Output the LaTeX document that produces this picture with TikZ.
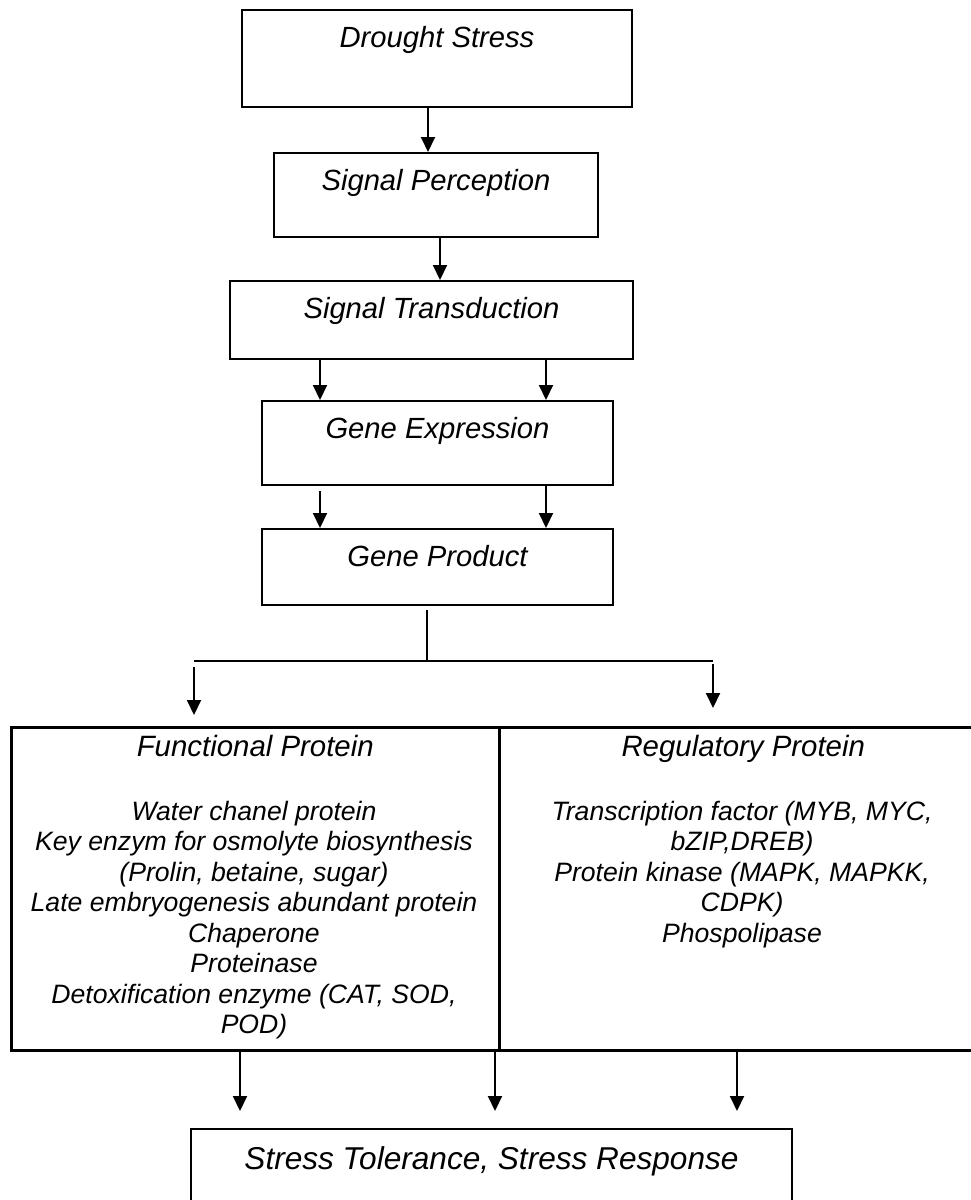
\documentclass[tikz,border=0pt]{standalone}
\usepackage{fontspec}
\setmainfont{Liberation Sans}
\usetikzlibrary{arrows.meta,positioning,calc}

\begin{document}
\begin{tikzpicture}[x=1pt,y=-1pt,
  box/.style = {draw, line width=2pt, anchor=north west, inner sep=0pt, align=center, text height=37pt, font=\fontsize{29.2}{34}\selectfont\itshape},
  cell/.style = {draw, line width=2.5pt, anchor=north west, inner sep=0pt, minimum width=488pt, text height=29pt, text depth=294pt, font=\fontsize{29.4}{34}\selectfont\itshape},
  cell text/.style = {anchor=north, align=center, inner sep=0pt, font=\fontsize{26.6}{30.5}\selectfont\itshape},
  arr/.style = {-{Triangle[length=15pt,width=14pt]}, line width=2pt}]

\useasboundingbox (0,0) rectangle (971,1200);

% pathway boxes
\node[box, minimum width=390pt, text depth=60pt] (drought)      at (241,9)   {Drought Stress};
\node[box, minimum width=324pt, text depth=47pt] (perception)   at (273,152) {Signal Perception};
\node[box, minimum width=403pt, text depth=41pt] (transduction) at (229,280) {Signal Transduction};
\node[box, minimum width=351pt, text depth=47pt] (expression)   at (261,400) {Gene Expression};
\node[box, minimum width=351pt, text depth=39pt] (product)      at (261,528) {Gene Product};

% protein classes
\node[cell] (functional) at (10,726)  {Functional Protein};
\node[cell] (regulatory) at (498,726) {Regulatory Protein};
\node[cell text] (functionallist) at (254,801) {Water chanel protein\\Key enzym for osmolyte biosynthesis\\(Prolin, betaine, sugar)\\Late embryogenesis abundant protein\\Chaperone\\Proteinase\\Detoxification enzyme (CAT, SOD,\\POD)};
\node[cell text] (regulatorylist) at (742,801) {Transcription factor (MYB, MYC,\\bZIP,DREB)\\Protein kinase (MAPK, MAPKK,\\CDPK)\\Phospolipase};

\node[box, minimum width=601pt, text height=40pt, text depth=80pt, font=\fontsize{31.6}{36}\selectfont\itshape] (tolerance) at (190,1128) {Stress Tolerance, Stress Response};

% arrows down the chain
\draw[arr] ([xshift=-9pt]drought.south) -- ([xshift=-9pt]drought.south |- perception.north);
\draw[arr] ([xshift=4pt]perception.south) -- ([xshift=4pt]perception.south |- transduction.north);
\draw[arr] ([xshift=59pt]expression.north west |- transduction.south) -- ([xshift=59pt]expression.north west);
\draw[arr] ([xshift=-68pt]expression.north east |- transduction.south) -- ([xshift=-68pt]expression.north east);
\draw[arr] ([xshift=59pt,yshift=-5pt]expression.south west) -- ([xshift=59pt]product.north west);
\draw[arr] ([xshift=-68pt]expression.south east) -- ([xshift=-68pt]product.north east);

% split into the two protein groups
\coordinate (split) at (427,661);
\coordinate (bl) at (194,661);
\coordinate (br) at (713,661);
\draw[line width=1.3pt] ([yshift=-4pt]product.south -| split) -- (split);
\draw[line width=2pt] (bl) -- (br);
\draw[arr] ([yshift=-6pt]bl) -- ([yshift=11pt]bl |- functional.north);
\draw[arr] ([yshift=-3pt]br) -- ([yshift=18pt]br |- regulatory.north);

\foreach \ax in {240,495,737}
  { \draw[arr] (\ax,0 |- functional.south) -- ([yshift=17pt]\ax,0 |- tolerance.north); }

\end{tikzpicture}
\end{document}
